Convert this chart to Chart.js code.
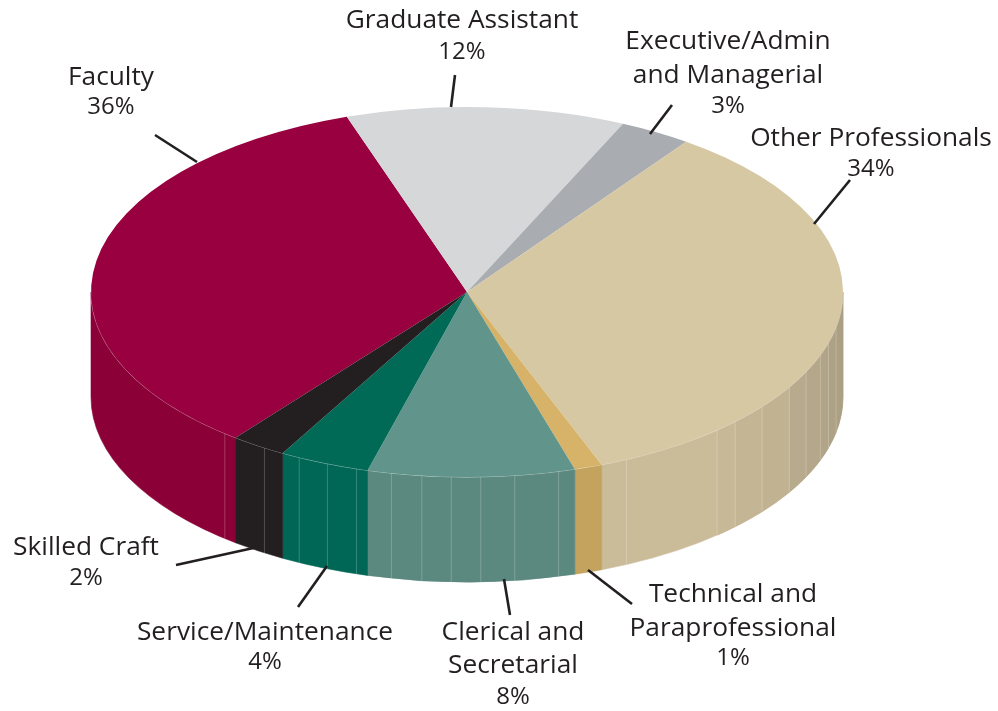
<!DOCTYPE html>
<html>
<head>
<meta charset="utf-8">
<title>Employees by category</title>
<style>
  html, body { margin: 0; padding: 0; background: #fff; }
  #wrap { width: 998px; height: 711px; }
</style>
<script src="https://cdn.jsdelivr.net/npm/chart.js@4"></script>
</head>
<body>
<div id="wrap"><canvas id="pie" width="998" height="711"></canvas></div>
<script>
const categories = ['Faculty', 'Graduate Assistant', 'Executive/Admin and Managerial', 'Other Professionals',
    'Technical and Paraprofessional', 'Clerical and Secretarial', 'Service/Maintenance', 'Skilled Craft'];
// the percentages printed next to each slice
const percents = [36, 12, 3, 34, 1, 8, 4, 2];
// the wedge sizes as actually drawn in the picture; they differ a little from the printed numbers
const drawnShares = [34.3, 12, 3.1, 34.3, 1.2, 8.9, 3.9, 2.4];
const topColors = ['#98003f', '#d5d7d9', '#a9acb1', '#d7c8a4', '#d6b368', '#61948b', '#006a57', '#231f20'];
const sideColors = ['#8b0037', '#c2c4c6', '#9a9da1', '#cabb99', '#c3a35e', '#5b887f', '#006655', '#231f20'];

// seams on the side wall, degrees clockwise from 12 o'clock
const seamAngles = [101, 106, 110, 115.6, 121, 128.3, 134.5, 138.3, 154.9, 165.9, 172.7, 177.9, 182.4, 186.9, 191.6,
    197.1, 201.8, 206.5, 212.6, 220.1];
// the tan wall gets darker towards the right, one shade per band
const tanBandEnds = [101, 106, 110, 115.6, 121, 128.3, 134.5, 138.3];
const tanBandShades = ['#aba084', '#aea286', '#b1a488', '#b4a78a', '#b7aa8d', '#c1b392', '#c4b695', '#c7b997'];

const tilt = 185 / 376;
const depth = 105;

const labelLayout = [
    { x: 111, y: [78, 107], lead: [155, 135, 197, 162], lines: ['Faculty'] },
    { x: 462, y: [21, 52], lead: [455, 75, 451, 107], lines: ['Graduate Assistant'] },
    { x: 728, y: [42, 76, 106], lead: [672, 105, 650, 134], lines: ['Executive/Admin', 'and Managerial'] },
    { x: 871, y: [139, 169], lead: [850, 180, 814, 224], lines: ['Other Professionals'] },
    { x: 733, y: [595, 629, 658], lead: [632, 604, 588, 570], lines: ['Technical and', 'Paraprofessional'] },
    { x: 513, y: [633, 666, 697], lead: [510, 615, 504, 579], lines: ['Clerical and', 'Secretarial'] },
    { x: 265, y: [633, 662], lead: [298, 607, 327, 566], lines: ['Service/Maintenance'] },
    { x: 86, y: [548, 578], lead: [176, 565, 258, 547], lines: ['Skilled Craft'] }
];

function wallBand(ctx, arc, a0, a1, color) {
    ctx.beginPath();
    ctx.ellipse(arc.x, arc.y, arc.outerRadius, arc.outerRadius * tilt, 0, a0, a1);
    ctx.ellipse(arc.x, arc.y + depth, arc.outerRadius, arc.outerRadius * tilt, 0, a1, a0, true);
    ctx.closePath();
    ctx.fillStyle = color;
    ctx.strokeStyle = color;
    ctx.lineWidth = 0.6;
    ctx.fill();
    ctx.stroke();
}

const pieWall = {
    id: 'pieWall',
    beforeDatasetsDraw(chart) {
        const ctx = chart.ctx;
        const arcs = chart.getDatasetMeta(0).data;
        ctx.save();
        arcs.forEach((arc, i) => {
            // only the front half of the rim is visible (canvas angles 0..PI)
            for (const k of [-1, 0, 1]) {
                const a0 = Math.max(arc.startAngle - k * 2 * Math.PI, 0);
                const a1 = Math.min(arc.endAngle - k * 2 * Math.PI, Math.PI);
                if (a1 <= a0) continue;
                wallBand(ctx, arc, a0, a1, sideColors[i]);
                if (i === 3) {
                    tanBandEnds.forEach((deg, b) => {
                        const end = Math.min((deg - 90) * Math.PI / 180, a1);
                        const start = b === 0 ? a0 : Math.max((tanBandEnds[b - 1] - 90) * Math.PI / 180, a0);
                        if (end > start) wallBand(ctx, arc, start, end, tanBandShades[b]);
                    });
                }
            }
        });
        const arc = arcs[0];
        ctx.lineWidth = 1;
        seamAngles.forEach(deg => {
            const a = (deg - 90) * Math.PI / 180;
            const x = arc.x + arc.outerRadius * Math.cos(a);
            const y = arc.y + arc.outerRadius * tilt * Math.sin(a);
            ctx.strokeStyle = 'rgba(255,255,255,0.22)';
            ctx.beginPath();
            ctx.moveTo(x, y);
            ctx.lineTo(x, y + depth);
            ctx.stroke();
        });
        // light rim along the top edge
        ctx.strokeStyle = 'rgba(255,255,255,0.4)';
        ctx.beginPath();
        ctx.ellipse(arc.x, arc.y, arc.outerRadius, arc.outerRadius * tilt, 0, 0, Math.PI);
        ctx.stroke();
        ctx.restore();

        // squash the flat pie into the tilted top face
        ctx.save();
        ctx.translate(arc.x, arc.y);
        ctx.scale(1, tilt);
        ctx.translate(-arc.x, -arc.y);
    },
    afterDatasetsDraw(chart) {
        chart.ctx.restore();
    }
};

const pieLabels = {
    id: 'pieLabels',
    afterDraw(chart) {
        const ctx = chart.ctx;
        ctx.save();
        ctx.strokeStyle = '#231f20';
        ctx.fillStyle = '#231f20';
        ctx.lineWidth = 2.6;
        ctx.textAlign = 'center';
        ctx.textBaseline = 'middle';
        labelLayout.forEach((item, i) => {
            ctx.beginPath();
            ctx.moveTo(item.lead[0], item.lead[1]);
            ctx.lineTo(item.lead[2], item.lead[3]);
            ctx.stroke();
            ctx.font = '26.3px "Open Sans"';
            item.lines.forEach((line, n) => ctx.fillText(line, item.x, item.y[n]));
            ctx.font = '24px "Open Sans"';
            ctx.fillText(percents[i] + '%', item.x, item.y[item.lines.length]);
        });
        ctx.restore();
    }
};

new Chart(document.getElementById('pie').getContext('2d'), {
    type: 'pie',
    data: {
        labels: categories,
        datasets: [{
            data: drawnShares,
            backgroundColor: topColors,
            borderWidth: 0
        }]
    },
    options: {
        responsive: false,
        animation: false,
        radius: 376,
        rotation: 218,
        layout: { padding: { right: 64, bottom: 127 } },
        plugins: {
            legend: { display: false },
            tooltip: { enabled: false }
        }
    },
    plugins: [pieWall, pieLabels]
});
</script>
</body>
</html>
